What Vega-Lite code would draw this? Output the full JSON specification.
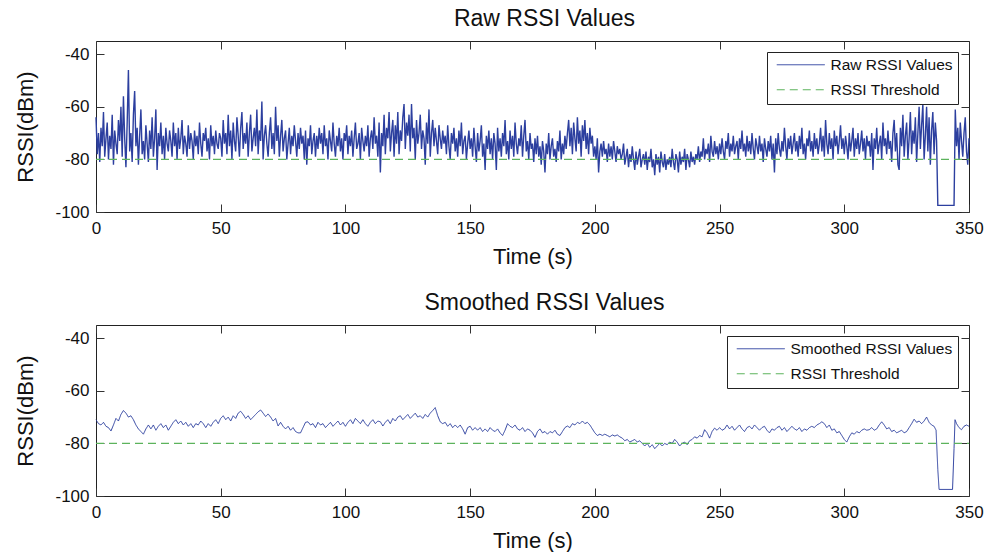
{
"$schema":"https://vega.github.io/schema/vega-lite/v6.json",
"background":"white",
"padding":{"left":14,"top":7,"right":5,"bottom":5},
"bounds":"flush",
"spacing":113,
"config":{
"font":"Liberation Sans",
"view":{"stroke":"#222","strokeWidth":1},
"axis":{"grid":false,"domain":false,"ticks":true,"tickSize":-8,"tickColor":"#333","tickWidth":1,"labelFontSize":17,"labelColor":"#111","labelFlush":false,"labelOverlap":false,"titleFontSize":22,"titleFontWeight":"normal","titleColor":"#111","labelFont":"Liberation Sans","titleFont":"Liberation Sans"},
"axisX":{"labelPadding":16,"titlePadding":10},
"axisY":{"labelPadding":15,"titlePadding":17},
"title":{"fontSize":23,"fontWeight":"normal","font":"Liberation Sans","color":"#111","offset":10,"anchor":"middle","dx":12},
"legend":{"orient":"top-right","offset":11,"strokeColor":"#222","fillColor":"white","padding":5,"labelFontSize":15.5,"labelFont":"Liberation Sans","labelColor":"#111","symbolType":"M-4,0H4","symbolSize":144,"symbolOffset":21,"labelOffset":22,"symbolStrokeWidth":1,"rowPadding":8,"labelLimit":400}
},
"resolve":{"scale":{"color":"independent","strokeDash":"independent"}},
"datasets":{
"thr":[{"t":0,"v":-80},{"t":350,"v":-80}],
"box":[{"t":0,"v":-100}],
"raw":[
{"t":0,"v":-64},{"t":0.5,"v":-78},{"t":1,"v":-70},{"t":1.5,"v":-81},{"t":2,"v":-68},{"t":2.5,"v":-75},{"t":3,"v":-62},{"t":3.5,"v":-79},{"t":4,"v":-72},{"t":4.5,"v":-66},{"t":5,"v":-80},{"t":5.5,"v":-71},{"t":6,"v":-76},{"t":6.5,"v":-63},{"t":7,"v":-82},{"t":7.5,"v":-69},{"t":8,"v":-74},{"t":8.5,"v":-78},{"t":9,"v":-65},{"t":9.5,"v":-73},
{"t":10,"v":-60},{"t":10.5,"v":-79},{"t":11,"v":-56},{"t":11.5,"v":-72},{"t":12,"v":-83},{"t":12.5,"v":-66},{"t":13,"v":-46},{"t":13.5,"v":-77},{"t":14,"v":-70},{"t":14.5,"v":-81},{"t":15,"v":-63},{"t":15.5,"v":-54},{"t":16,"v":-75},{"t":16.5,"v":-68},{"t":17,"v":-82},{"t":17.5,"v":-71},{"t":18,"v":-61},{"t":18.5,"v":-78},{"t":19,"v":-73},{"t":19.5,"v":-80},
{"t":20,"v":-67},{"t":20.5,"v":-74},{"t":21,"v":-81},{"t":21.5,"v":-69},{"t":22,"v":-76},{"t":22.5,"v":-64},{"t":23,"v":-79},{"t":23.5,"v":-72},{"t":24,"v":-61},{"t":24.5,"v":-84},{"t":25,"v":-70},{"t":25.5,"v":-75},{"t":26,"v":-66},{"t":26.5,"v":-78},{"t":27,"v":-71},{"t":27.5,"v":-80},{"t":28,"v":-68},{"t":28.5,"v":-74},{"t":29,"v":-77},{"t":29.5,"v":-69},
{"t":30,"v":-73},{"t":30.5,"v":-79},{"t":31,"v":-66},{"t":31.5,"v":-75},{"t":32,"v":-70},{"t":32.5,"v":-80},{"t":33,"v":-68},{"t":33.5,"v":-76},{"t":34,"v":-72},{"t":34.5,"v":-65},{"t":35,"v":-78},{"t":35.5,"v":-71},{"t":36,"v":-74},{"t":36.5,"v":-79},{"t":37,"v":-67},{"t":37.5,"v":-76},{"t":38,"v":-70},{"t":38.5,"v":-73},{"t":39,"v":-80},{"t":39.5,"v":-69},
{"t":40,"v":-75},{"t":40.5,"v":-71},{"t":41,"v":-78},{"t":41.5,"v":-66},{"t":42,"v":-74},{"t":42.5,"v":-79},{"t":43,"v":-70},{"t":43.5,"v":-73},{"t":44,"v":-68},{"t":44.5,"v":-77},{"t":45,"v":-72},{"t":45.5,"v":-80},{"t":46,"v":-67},{"t":46.5,"v":-75},{"t":47,"v":-71},{"t":47.5,"v":-78},{"t":48,"v":-69},{"t":48.5,"v":-74},{"t":49,"v":-76},{"t":49.5,"v":-70},
{"t":50,"v":-72},{"t":50.5,"v":-79},{"t":51,"v":-65},{"t":51.5,"v":-74},{"t":52,"v":-70},{"t":52.5,"v":-78},{"t":53,"v":-63},{"t":53.5,"v":-75},{"t":54,"v":-69},{"t":54.5,"v":-80},{"t":55,"v":-66},{"t":55.5,"v":-73},{"t":56,"v":-77},{"t":56.5,"v":-64},{"t":57,"v":-71},{"t":57.5,"v":-79},{"t":58,"v":-68},{"t":58.5,"v":-62},{"t":59,"v":-76},{"t":59.5,"v":-70},
{"t":60,"v":-74},{"t":60.5,"v":-66},{"t":61,"v":-79},{"t":61.5,"v":-70},{"t":62,"v":-63},{"t":62.5,"v":-77},{"t":63,"v":-72},{"t":63.5,"v":-68},{"t":64,"v":-75},{"t":64.5,"v":-61},{"t":65,"v":-78},{"t":65.5,"v":-69},{"t":66,"v":-73},{"t":66.5,"v":-58},{"t":67,"v":-80},{"t":67.5,"v":-71},{"t":68,"v":-67},{"t":68.5,"v":-74},{"t":69,"v":-79},{"t":69.5,"v":-70},
{"t":70,"v":-64},{"t":70.5,"v":-76},{"t":71,"v":-70},{"t":71.5,"v":-78},{"t":72,"v":-60},{"t":72.5,"v":-73},{"t":73,"v":-67},{"t":73.5,"v":-79},{"t":74,"v":-71},{"t":74.5,"v":-65},{"t":75,"v":-77},{"t":75.5,"v":-72},{"t":76,"v":-69},{"t":76.5,"v":-80},{"t":77,"v":-74},{"t":77.5,"v":-68},{"t":78,"v":-78},{"t":78.5,"v":-71},{"t":79,"v":-75},{"t":79.5,"v":-67},
{"t":80,"v":-73},{"t":80.5,"v":-79},{"t":81,"v":-70},{"t":81.5,"v":-76},{"t":82,"v":-68},{"t":82.5,"v":-74},{"t":83,"v":-71},{"t":83.5,"v":-80},{"t":84,"v":-69},{"t":84.5,"v":-82},{"t":85,"v":-72},{"t":85.5,"v":-75},{"t":86,"v":-67},{"t":86.5,"v":-78},{"t":87,"v":-73},{"t":87.5,"v":-70},{"t":88,"v":-79},{"t":88.5,"v":-71},{"t":89,"v":-76},{"t":89.5,"v":-68},
{"t":90,"v":-74},{"t":90.5,"v":-70},{"t":91,"v":-78},{"t":91.5,"v":-67},{"t":92,"v":-75},{"t":92.5,"v":-72},{"t":93,"v":-80},{"t":93.5,"v":-69},{"t":94,"v":-73},{"t":94.5,"v":-77},{"t":95,"v":-66},{"t":95.5,"v":-74},{"t":96,"v":-79},{"t":96.5,"v":-71},{"t":97,"v":-75},{"t":97.5,"v":-68},{"t":98,"v":-77},{"t":98.5,"v":-72},{"t":99,"v":-80},{"t":99.5,"v":-70},
{"t":100,"v":-73},{"t":100.5,"v":-67},{"t":101,"v":-78},{"t":101.5,"v":-71},{"t":102,"v":-75},{"t":102.5,"v":-69},{"t":103,"v":-79},{"t":103.5,"v":-72},{"t":104,"v":-66},{"t":104.5,"v":-76},{"t":105,"v":-74},{"t":105.5,"v":-70},{"t":106,"v":-80},{"t":106.5,"v":-68},{"t":107,"v":-73},{"t":107.5,"v":-77},{"t":108,"v":-71},{"t":108.5,"v":-75},{"t":109,"v":-67},{"t":109.5,"v":-79},
{"t":110,"v":-72},{"t":110.5,"v":-69},{"t":111,"v":-76},{"t":111.5,"v":-64},{"t":112,"v":-74},{"t":112.5,"v":-71},{"t":113,"v":-79},{"t":113.5,"v":-66},{"t":114,"v":-85},{"t":114.5,"v":-70},{"t":115,"v":-75},{"t":115.5,"v":-63},{"t":116,"v":-78},{"t":116.5,"v":-68},{"t":117,"v":-72},{"t":117.5,"v":-62},{"t":118,"v":-77},{"t":118.5,"v":-70},{"t":119,"v":-65},{"t":119.5,"v":-79},
{"t":120,"v":-67},{"t":120.5,"v":-74},{"t":121,"v":-62},{"t":121.5,"v":-78},{"t":122,"v":-69},{"t":122.5,"v":-73},{"t":123,"v":-64},{"t":123.5,"v":-59},{"t":124,"v":-76},{"t":124.5,"v":-66},{"t":125,"v":-71},{"t":125.5,"v":-63},{"t":126,"v":-77},{"t":126.5,"v":-59},{"t":127,"v":-72},{"t":127.5,"v":-68},{"t":128,"v":-80},{"t":128.5,"v":-65},{"t":129,"v":-74},{"t":129.5,"v":-70},
{"t":130,"v":-63},{"t":130.5,"v":-76},{"t":131,"v":-69},{"t":131.5,"v":-72},{"t":132,"v":-82},{"t":132.5,"v":-66},{"t":133,"v":-74},{"t":133.5,"v":-61},{"t":134,"v":-79},{"t":134.5,"v":-70},{"t":135,"v":-65},{"t":135.5,"v":-75},{"t":136,"v":-68},{"t":136.5,"v":-73},{"t":137,"v":-78},{"t":137.5,"v":-67},{"t":138,"v":-72},{"t":138.5,"v":-76},{"t":139,"v":-69},{"t":139.5,"v":-74},
{"t":140,"v":-71},{"t":140.5,"v":-78},{"t":141,"v":-67},{"t":141.5,"v":-75},{"t":142,"v":-80},{"t":142.5,"v":-70},{"t":143,"v":-74},{"t":143.5,"v":-68},{"t":144,"v":-77},{"t":144.5,"v":-72},{"t":145,"v":-79},{"t":145.5,"v":-69},{"t":146,"v":-75},{"t":146.5,"v":-66},{"t":147,"v":-78},{"t":147.5,"v":-73},{"t":148,"v":-71},{"t":148.5,"v":-80},{"t":149,"v":-74},{"t":149.5,"v":-69},
{"t":150,"v":-76},{"t":150.5,"v":-72},{"t":151,"v":-79},{"t":151.5,"v":-68},{"t":152,"v":-75},{"t":152.5,"v":-81},{"t":153,"v":-70},{"t":153.5,"v":-77},{"t":154,"v":-73},{"t":154.5,"v":-67},{"t":155,"v":-79},{"t":155.5,"v":-74},{"t":156,"v":-84},{"t":156.5,"v":-71},{"t":157,"v":-76},{"t":157.5,"v":-69},{"t":158,"v":-78},{"t":158.5,"v":-72},{"t":159,"v":-80},{"t":159.5,"v":-70},
{"t":160,"v":-74},{"t":160.5,"v":-84},{"t":161,"v":-68},{"t":161.5,"v":-77},{"t":162,"v":-72},{"t":162.5,"v":-79},{"t":163,"v":-70},{"t":163.5,"v":-75},{"t":164,"v":-65},{"t":164.5,"v":-78},{"t":165,"v":-73},{"t":165.5,"v":-80},{"t":166,"v":-69},{"t":166.5,"v":-76},{"t":167,"v":-71},{"t":167.5,"v":-79},{"t":168,"v":-66},{"t":168.5,"v":-74},{"t":169,"v":-78},{"t":169.5,"v":-72},
{"t":170,"v":-75},{"t":170.5,"v":-67},{"t":171,"v":-79},{"t":171.5,"v":-71},{"t":172,"v":-65},{"t":172.5,"v":-77},{"t":173,"v":-73},{"t":173.5,"v":-80},{"t":174,"v":-70},{"t":174.5,"v":-76},{"t":175,"v":-74},{"t":175.5,"v":-81},{"t":176,"v":-72},{"t":176.5,"v":-78},{"t":177,"v":-71},{"t":177.5,"v":-79},{"t":178,"v":-75},{"t":178.5,"v":-82},{"t":179,"v":-73},{"t":179.5,"v":-77},
{"t":180,"v":-85},{"t":180.5,"v":-74},{"t":181,"v":-78},{"t":181.5,"v":-70},{"t":182,"v":-80},{"t":182.5,"v":-75},{"t":183,"v":-72},{"t":183.5,"v":-79},{"t":184,"v":-76},{"t":184.5,"v":-81},{"t":185,"v":-73},{"t":185.5,"v":-77},{"t":186,"v":-69},{"t":186.5,"v":-80},{"t":187,"v":-74},{"t":187.5,"v":-78},{"t":188,"v":-71},{"t":188.5,"v":-76},{"t":189,"v":-70},{"t":189.5,"v":-65},
{"t":190,"v":-75},{"t":190.5,"v":-68},{"t":191,"v":-78},{"t":191.5,"v":-66},{"t":192,"v":-72},{"t":192.5,"v":-77},{"t":193,"v":-64},{"t":193.5,"v":-74},{"t":194,"v":-69},{"t":194.5,"v":-79},{"t":195,"v":-67},{"t":195.5,"v":-73},{"t":196,"v":-65},{"t":196.5,"v":-76},{"t":197,"v":-70},{"t":197.5,"v":-78},{"t":198,"v":-68},{"t":198.5,"v":-74},{"t":199,"v":-71},{"t":199.5,"v":-79},
{"t":200,"v":-75},{"t":200.5,"v":-80},{"t":201,"v":-72},{"t":201.5,"v":-85},{"t":202,"v":-77},{"t":202.5,"v":-74},{"t":203,"v":-79},{"t":203.5,"v":-73},{"t":204,"v":-78},{"t":204.5,"v":-76},{"t":205,"v":-81},{"t":205.5,"v":-74},{"t":206,"v":-79},{"t":206.5,"v":-75},{"t":207,"v":-80},{"t":207.5,"v":-73},{"t":208,"v":-77},{"t":208.5,"v":-81},{"t":209,"v":-75},{"t":209.5,"v":-78},
{"t":210,"v":-76},{"t":210.5,"v":-80},{"t":211,"v":-78},{"t":211.5,"v":-74},{"t":212,"v":-82},{"t":212.5,"v":-79},{"t":213,"v":-76},{"t":213.5,"v":-83},{"t":214,"v":-78},{"t":214.5,"v":-81},{"t":215,"v":-75},{"t":215.5,"v":-80},{"t":216,"v":-84},{"t":216.5,"v":-77},{"t":217,"v":-82},{"t":217.5,"v":-79},{"t":218,"v":-76},{"t":218.5,"v":-83},{"t":219,"v":-80},{"t":219.5,"v":-78},
{"t":220,"v":-82},{"t":220.5,"v":-77},{"t":221,"v":-84},{"t":221.5,"v":-79},{"t":222,"v":-81},{"t":222.5,"v":-76},{"t":223,"v":-83},{"t":223.5,"v":-80},{"t":224,"v":-86},{"t":224.5,"v":-78},{"t":225,"v":-82},{"t":225.5,"v":-79},{"t":226,"v":-85},{"t":226.5,"v":-77},{"t":227,"v":-81},{"t":227.5,"v":-83},{"t":228,"v":-78},{"t":228.5,"v":-84},{"t":229,"v":-80},{"t":229.5,"v":-82},
{"t":230,"v":-79},{"t":230.5,"v":-83},{"t":231,"v":-76},{"t":231.5,"v":-81},{"t":232,"v":-84},{"t":232.5,"v":-78},{"t":233,"v":-80},{"t":233.5,"v":-85},{"t":234,"v":-77},{"t":234.5,"v":-82},{"t":235,"v":-79},{"t":235.5,"v":-81},{"t":236,"v":-76},{"t":236.5,"v":-84},{"t":237,"v":-78},{"t":237.5,"v":-80},{"t":238,"v":-83},{"t":238.5,"v":-77},{"t":239,"v":-81},{"t":239.5,"v":-79},
{"t":240,"v":-82},{"t":240.5,"v":-78},{"t":241,"v":-80},{"t":241.5,"v":-75},{"t":242,"v":-81},{"t":242.5,"v":-77},{"t":243,"v":-79},{"t":243.5,"v":-72},{"t":244,"v":-80},{"t":244.5,"v":-76},{"t":245,"v":-78},{"t":245.5,"v":-74},{"t":246,"v":-81},{"t":246.5,"v":-71},{"t":247,"v":-77},{"t":247.5,"v":-79},{"t":248,"v":-73},{"t":248.5,"v":-78},{"t":249,"v":-75},{"t":249.5,"v":-80},
{"t":250,"v":-74},{"t":250.5,"v":-78},{"t":251,"v":-72},{"t":251.5,"v":-77},{"t":252,"v":-80},{"t":252.5,"v":-73},{"t":253,"v":-76},{"t":253.5,"v":-70},{"t":254,"v":-79},{"t":254.5,"v":-74},{"t":255,"v":-77},{"t":255.5,"v":-71},{"t":256,"v":-78},{"t":256.5,"v":-75},{"t":257,"v":-73},{"t":257.5,"v":-80},{"t":258,"v":-72},{"t":258.5,"v":-76},{"t":259,"v":-69},{"t":259.5,"v":-77},
{"t":260,"v":-74},{"t":260.5,"v":-79},{"t":261,"v":-71},{"t":261.5,"v":-77},{"t":262,"v":-73},{"t":262.5,"v":-78},{"t":263,"v":-70},{"t":263.5,"v":-76},{"t":264,"v":-80},{"t":264.5,"v":-72},{"t":265,"v":-75},{"t":265.5,"v":-78},{"t":266,"v":-71},{"t":266.5,"v":-77},{"t":267,"v":-74},{"t":267.5,"v":-81},{"t":268,"v":-72},{"t":268.5,"v":-76},{"t":269,"v":-79},{"t":269.5,"v":-73},
{"t":270,"v":-77},{"t":270.5,"v":-71},{"t":271,"v":-80},{"t":271.5,"v":-74},{"t":272,"v":-85},{"t":272.5,"v":-72},{"t":273,"v":-78},{"t":273.5,"v":-70},{"t":274,"v":-76},{"t":274.5,"v":-79},{"t":275,"v":-73},{"t":275.5,"v":-77},{"t":276,"v":-68},{"t":276.5,"v":-75},{"t":277,"v":-80},{"t":277.5,"v":-72},{"t":278,"v":-76},{"t":278.5,"v":-71},{"t":279,"v":-78},{"t":279.5,"v":-74},
{"t":280,"v":-70},{"t":280.5,"v":-77},{"t":281,"v":-73},{"t":281.5,"v":-79},{"t":282,"v":-71},{"t":282.5,"v":-76},{"t":283,"v":-68},{"t":283.5,"v":-78},{"t":284,"v":-74},{"t":284.5,"v":-80},{"t":285,"v":-72},{"t":285.5,"v":-75},{"t":286,"v":-69},{"t":286.5,"v":-77},{"t":287,"v":-73},{"t":287.5,"v":-79},{"t":288,"v":-70},{"t":288.5,"v":-76},{"t":289,"v":-72},{"t":289.5,"v":-78},
{"t":290,"v":-74},{"t":290.5,"v":-68},{"t":291,"v":-77},{"t":291.5,"v":-71},{"t":292,"v":-79},{"t":292.5,"v":-65},{"t":293,"v":-74},{"t":293.5,"v":-78},{"t":294,"v":-70},{"t":294.5,"v":-76},{"t":295,"v":-72},{"t":295.5,"v":-80},{"t":296,"v":-69},{"t":296.5,"v":-75},{"t":297,"v":-71},{"t":297.5,"v":-78},{"t":298,"v":-73},{"t":298.5,"v":-67},{"t":299,"v":-76},{"t":299.5,"v":-72},
{"t":300,"v":-78},{"t":300.5,"v":-71},{"t":301,"v":-75},{"t":301.5,"v":-80},{"t":302,"v":-70},{"t":302.5,"v":-77},{"t":303,"v":-73},{"t":303.5,"v":-68},{"t":304,"v":-79},{"t":304.5,"v":-72},{"t":305,"v":-76},{"t":305.5,"v":-70},{"t":306,"v":-78},{"t":306.5,"v":-74},{"t":307,"v":-69},{"t":307.5,"v":-77},{"t":308,"v":-72},{"t":308.5,"v":-80},{"t":309,"v":-71},{"t":309.5,"v":-75},
{"t":310,"v":-73},{"t":310.5,"v":-79},{"t":311,"v":-70},{"t":311.5,"v":-84},{"t":312,"v":-72},{"t":312.5,"v":-76},{"t":313,"v":-68},{"t":313.5,"v":-78},{"t":314,"v":-74},{"t":314.5,"v":-71},{"t":315,"v":-80},{"t":315.5,"v":-66},{"t":316,"v":-75},{"t":316.5,"v":-72},{"t":317,"v":-78},{"t":317.5,"v":-69},{"t":318,"v":-76},{"t":318.5,"v":-73},{"t":319,"v":-81},{"t":319.5,"v":-70},
{"t":320,"v":-65},{"t":320.5,"v":-77},{"t":321,"v":-70},{"t":321.5,"v":-82},{"t":322,"v":-84},{"t":322.5,"v":-68},{"t":323,"v":-75},{"t":323.5,"v":-63},{"t":324,"v":-79},{"t":324.5,"v":-71},{"t":325,"v":-66},{"t":325.5,"v":-80},{"t":326,"v":-72},{"t":326.5,"v":-62},{"t":327,"v":-78},{"t":327.5,"v":-69},{"t":328,"v":-74},{"t":328.5,"v":-64},{"t":329,"v":-81},{"t":329.5,"v":-70},
{"t":330,"v":-60},{"t":330.5,"v":-76},{"t":331,"v":-67},{"t":331.5,"v":-59},{"t":332,"v":-80},{"t":332.5,"v":-71},{"t":333,"v":-60},{"t":333.5,"v":-77},{"t":334,"v":-64},{"t":334.5,"v":-82},{"t":335,"v":-69},{"t":335.5,"v":-62},{"t":336,"v":-78},{"t":336.5,"v":-66},{"t":337,"v":-73},
{"t":337.5,"v":-97.5},{"t":344,"v":-97.5},
{"t":344.5,"v":-61},{"t":345,"v":-75},{"t":345.5,"v":-68},{"t":346,"v":-80},{"t":346.5,"v":-66},{"t":347,"v":-73},{"t":347.5,"v":-79},{"t":348,"v":-70},{"t":348.5,"v":-64},{"t":349,"v":-77},{"t":349.5,"v":-82},{"t":350,"v":-72}
],
"smooth":[
{"t":0,"v":-71},{"t":1,"v":-72.5},{"t":2,"v":-73},{"t":3,"v":-72},{"t":4,"v":-73.5},{"t":5,"v":-74},{"t":6,"v":-75.3},{"t":7,"v":-73},{"t":8,"v":-70.5},{"t":9,"v":-71.5},
{"t":10,"v":-69},{"t":11,"v":-67.5},{"t":12,"v":-68.5},{"t":13,"v":-70},{"t":14,"v":-69.5},{"t":15,"v":-71},{"t":16,"v":-73},{"t":17,"v":-74.5},{"t":18,"v":-75.5},{"t":19,"v":-76.5},
{"t":20,"v":-74.5},{"t":21,"v":-73},{"t":22,"v":-74.5},{"t":23,"v":-73},{"t":24,"v":-75},{"t":25,"v":-73.5},{"t":26,"v":-72.5},{"t":27,"v":-74},{"t":28,"v":-73},{"t":29,"v":-75},
{"t":30,"v":-73.5},{"t":31,"v":-72},{"t":32,"v":-71},{"t":33,"v":-72.5},{"t":34,"v":-71.5},{"t":35,"v":-73},{"t":36,"v":-72},{"t":37,"v":-73.5},{"t":38,"v":-72.5},{"t":39,"v":-74},
{"t":40,"v":-72.5},{"t":41,"v":-73},{"t":42,"v":-71.5},{"t":43,"v":-72.5},{"t":44,"v":-74},{"t":45,"v":-72.5},{"t":46,"v":-73.5},{"t":47,"v":-72},{"t":48,"v":-71},{"t":49,"v":-72.5},
{"t":50,"v":-70.5},{"t":51,"v":-69.5},{"t":52,"v":-71},{"t":53,"v":-70},{"t":54,"v":-71.5},{"t":55,"v":-69.5},{"t":56,"v":-70.5},{"t":57,"v":-68.5},{"t":58,"v":-67.8},{"t":59,"v":-69},
{"t":60,"v":-70.5},{"t":61,"v":-69.5},{"t":62,"v":-71},{"t":63,"v":-70},{"t":64,"v":-69},{"t":65,"v":-68},{"t":66,"v":-67.3},{"t":67,"v":-68.5},{"t":68,"v":-69.8},{"t":69,"v":-68.8},
{"t":70,"v":-70},{"t":71,"v":-71.5},{"t":72,"v":-70.5},{"t":73,"v":-73.4},{"t":74,"v":-72},{"t":75,"v":-73.5},{"t":76,"v":-74.5},{"t":77,"v":-73.5},{"t":78,"v":-75},{"t":79,"v":-74},
{"t":80,"v":-75.5},{"t":81,"v":-76},{"t":82,"v":-76},{"t":83,"v":-74},{"t":84,"v":-72},{"t":85,"v":-71.8},{"t":86,"v":-73},{"t":87,"v":-72.5},{"t":88,"v":-74},{"t":89,"v":-72},
{"t":90,"v":-73},{"t":91,"v":-72.5},{"t":92,"v":-74},{"t":93,"v":-73},{"t":94,"v":-72},{"t":95,"v":-73.5},{"t":96,"v":-72.5},{"t":97,"v":-71.5},{"t":98,"v":-73},{"t":99,"v":-72},
{"t":100,"v":-73.5},{"t":101,"v":-72},{"t":102,"v":-71},{"t":103,"v":-72.5},{"t":104,"v":-70.5},{"t":105,"v":-71.5},{"t":106,"v":-72.5},{"t":107,"v":-71},{"t":108,"v":-72.5},{"t":109,"v":-73.5},
{"t":110,"v":-72},{"t":111,"v":-71},{"t":112,"v":-72.5},{"t":113,"v":-71.5},{"t":114,"v":-71.8},{"t":115,"v":-73.4},{"t":116,"v":-72},{"t":117,"v":-71},{"t":118,"v":-72.5},{"t":119,"v":-70.5},
{"t":120,"v":-71.5},{"t":121,"v":-70},{"t":122,"v":-69.5},{"t":123,"v":-71},{"t":124,"v":-70},{"t":125,"v":-69},{"t":126,"v":-70.5},{"t":127,"v":-69.5},{"t":128,"v":-68.5},{"t":129,"v":-70},
{"t":130,"v":-69.5},{"t":131,"v":-70.5},{"t":132,"v":-69},{"t":133,"v":-70},{"t":134,"v":-68.5},{"t":135,"v":-67.5},{"t":136,"v":-66.4},{"t":137,"v":-69.5},{"t":138,"v":-71.8},{"t":139,"v":-72.5},
{"t":140,"v":-72},{"t":141,"v":-73.5},{"t":142,"v":-72.5},{"t":143,"v":-74},{"t":144,"v":-73},{"t":145,"v":-74},{"t":146,"v":-73},{"t":147,"v":-74.5},{"t":148,"v":-76.5},{"t":149,"v":-74},
{"t":150,"v":-73.5},{"t":151,"v":-75},{"t":152,"v":-74},{"t":153,"v":-75},{"t":154,"v":-74},{"t":155,"v":-75.5},{"t":156,"v":-74.5},{"t":157,"v":-75.5},{"t":158,"v":-74},{"t":159,"v":-75},
{"t":160,"v":-75.5},{"t":161,"v":-74.5},{"t":162,"v":-76},{"t":163,"v":-77},{"t":164,"v":-75},{"t":165,"v":-72.5},{"t":166,"v":-73.5},{"t":167,"v":-74},{"t":168,"v":-73},{"t":169,"v":-74.5},
{"t":170,"v":-75},{"t":171,"v":-74},{"t":172,"v":-75.5},{"t":173,"v":-74.5},{"t":174,"v":-75},{"t":175,"v":-76},{"t":176,"v":-77.7},{"t":177,"v":-75.5},{"t":178,"v":-74.5},{"t":179,"v":-76},
{"t":180,"v":-75.5},{"t":181,"v":-76.5},{"t":182,"v":-75.5},{"t":183,"v":-76},{"t":184,"v":-75},{"t":185,"v":-76.5},{"t":186,"v":-77},{"t":187,"v":-75.5},{"t":188,"v":-74},{"t":189,"v":-73.4},
{"t":190,"v":-74},{"t":191,"v":-72.5},{"t":192,"v":-73},{"t":193,"v":-72},{"t":194,"v":-72.5},{"t":195,"v":-71.5},{"t":196,"v":-72.5},{"t":197,"v":-72},{"t":198,"v":-73},{"t":199,"v":-74.5},
{"t":200,"v":-76},{"t":201,"v":-77},{"t":202,"v":-76.5},{"t":203,"v":-77},{"t":204,"v":-76.5},{"t":205,"v":-77},{"t":206,"v":-77.5},{"t":207,"v":-76.8},{"t":208,"v":-77.2},{"t":209,"v":-76.8},
{"t":210,"v":-77.5},{"t":211,"v":-78},{"t":212,"v":-79},{"t":213,"v":-78.5},{"t":214,"v":-79.5},{"t":215,"v":-79},{"t":216,"v":-78.5},{"t":217,"v":-79.5},{"t":218,"v":-79},{"t":219,"v":-80},
{"t":220,"v":-81},{"t":221,"v":-80},{"t":222,"v":-81.5},{"t":223,"v":-80.5},{"t":224,"v":-82},{"t":225,"v":-81},{"t":226,"v":-80},{"t":227,"v":-81},{"t":228,"v":-80},{"t":229,"v":-80.5},
{"t":230,"v":-79.5},{"t":231,"v":-80},{"t":232,"v":-78.5},{"t":233,"v":-79.5},{"t":234,"v":-81},{"t":235,"v":-80},{"t":236,"v":-79.5},{"t":237,"v":-80.5},{"t":238,"v":-79},{"t":239,"v":-78.5},
{"t":240,"v":-77.5},{"t":241,"v":-78},{"t":242,"v":-77},{"t":243,"v":-77.5},{"t":244,"v":-74.8},{"t":245,"v":-76},{"t":246,"v":-78},{"t":247,"v":-75.5},{"t":248,"v":-74.2},{"t":249,"v":-75},
{"t":250,"v":-74},{"t":251,"v":-75},{"t":252,"v":-74.5},{"t":253,"v":-73},{"t":254,"v":-74.5},{"t":255,"v":-73.5},{"t":256,"v":-75},{"t":257,"v":-74},{"t":258,"v":-73},{"t":259,"v":-74.5},
{"t":260,"v":-75.5},{"t":261,"v":-74},{"t":262,"v":-73.5},{"t":263,"v":-74.5},{"t":264,"v":-73},{"t":265,"v":-74},{"t":266,"v":-75},{"t":267,"v":-74},{"t":268,"v":-73.5},{"t":269,"v":-75},
{"t":270,"v":-76},{"t":271,"v":-74.5},{"t":272,"v":-75},{"t":273,"v":-74},{"t":274,"v":-73.5},{"t":275,"v":-75},{"t":276,"v":-74},{"t":277,"v":-75.5},{"t":278,"v":-74.5},{"t":279,"v":-73.5},
{"t":280,"v":-74.5},{"t":281,"v":-75},{"t":282,"v":-74},{"t":283,"v":-75.5},{"t":284,"v":-74.5},{"t":285,"v":-75},{"t":286,"v":-74},{"t":287,"v":-73.5},{"t":288,"v":-74},{"t":289,"v":-73},
{"t":290,"v":-72.5},{"t":291,"v":-71.8},{"t":292,"v":-72.5},{"t":293,"v":-74},{"t":294,"v":-73},{"t":295,"v":-75},{"t":296,"v":-74.5},{"t":297,"v":-76},{"t":298,"v":-75.5},{"t":299,"v":-77},
{"t":300,"v":-78.5},{"t":301,"v":-79.5},{"t":302,"v":-77.5},{"t":303,"v":-76},{"t":304,"v":-76.5},{"t":305,"v":-75.5},{"t":306,"v":-76},{"t":307,"v":-75},{"t":308,"v":-74.5},{"t":309,"v":-75},
{"t":310,"v":-74.8},{"t":311,"v":-74},{"t":312,"v":-75},{"t":313,"v":-74.5},{"t":314,"v":-73},{"t":315,"v":-71.8},{"t":316,"v":-73},{"t":317,"v":-74.5},{"t":318,"v":-74},{"t":319,"v":-75.5},
{"t":320,"v":-75},{"t":321,"v":-76},{"t":322,"v":-75.5},{"t":323,"v":-75},{"t":324,"v":-76},{"t":325,"v":-75.5},{"t":326,"v":-74},{"t":327,"v":-72.5},{"t":328,"v":-70.8},{"t":329,"v":-72},
{"t":330,"v":-71.5},{"t":331,"v":-72.5},{"t":332,"v":-71.5},{"t":333,"v":-70},{"t":334,"v":-72},{"t":335,"v":-73},{"t":336,"v":-73.5},{"t":336.8,"v":-75},{"t":337.5,"v":-90},{"t":338,"v":-97.5},{"t":343.4,"v":-97.5},{"t":344,"v":-82},{"t":344.4,"v":-71},{"t":345,"v":-72.5},{"t":346,"v":-74},{"t":347,"v":-74.8},{"t":348,"v":-73.5},{"t":349,"v":-73},{"t":350,"v":-73.5}
]
},
"vconcat":[
{
"width":873,"height":171,
"title":{"text":"Raw RSSI Values"},
"layer":[
{"data":{"name":"raw"},"mark":{"type":"line","strokeWidth":1.4},
"encoding":{
"x":{"field":"t","type":"quantitative","scale":{"domain":[0,350],"nice":false,"zero":false},"axis":{"values":[0,50,100,150,200,250,300,350],"title":"Time (s)","labelExpr":"'' + datum.value"}},
"y":{"field":"v","type":"quantitative","scale":{"domain":[-100,-35],"nice":false,"zero":false},"axis":{"values":[-100,-80,-60,-40],"title":"RSSI(dBm)","labelExpr":"'' + datum.value"}},
"color":{"datum":"Raw RSSI Values","type":"nominal","scale":{"domain":["Raw RSSI Values","RSSI Threshold"],"range":["#2c3f9f","#5cb35c"]},"legend":{"title":null}},
"strokeDash":{"datum":"Raw RSSI Values","type":"nominal","scale":{"domain":["Raw RSSI Values","RSSI Threshold"],"range":[[1,0],[8,5]]},"legend":{"title":null}}
}},
{"data":{"name":"thr"},"mark":{"type":"line","strokeWidth":1.3},
"encoding":{
"x":{"field":"t","type":"quantitative","axis":null},
"y":{"field":"v","type":"quantitative","axis":null},
"color":{"datum":"RSSI Threshold","type":"nominal"},
"strokeDash":{"datum":"RSSI Threshold","type":"nominal"}
}},
{"data":{"name":"box"},"mark":{"type":"point","opacity":0},
"encoding":{
"x":{"field":"t","type":"quantitative","axis":{"orient":"top","values":[0,50,100,150,200,250,300,350],"labels":false,"title":null}},
"y":{"field":"v","type":"quantitative","axis":{"orient":"right","values":[-100,-80,-60,-40],"labels":false,"title":null}}
}}
],
"resolve":{"axis":{"x":"independent","y":"independent"}}
},
{
"width":873,"height":171,
"title":{"text":"Smoothed RSSI Values"},
"layer":[
{"data":{"name":"smooth"},"mark":{"type":"line","strokeWidth":1},
"encoding":{
"x":{"field":"t","type":"quantitative","scale":{"domain":[0,350],"nice":false,"zero":false},"axis":{"values":[0,50,100,150,200,250,300,350],"title":"Time (s)","labelExpr":"'' + datum.value"}},
"y":{"field":"v","type":"quantitative","scale":{"domain":[-100,-35],"nice":false,"zero":false},"axis":{"values":[-100,-80,-60,-40],"title":"RSSI(dBm)","labelExpr":"'' + datum.value"}},
"color":{"datum":"Smoothed RSSI Values","type":"nominal","scale":{"domain":["Smoothed RSSI Values","RSSI Threshold"],"range":["#2c3f9f","#5cb35c"]},"legend":{"title":null}},
"strokeDash":{"datum":"Smoothed RSSI Values","type":"nominal","scale":{"domain":["Smoothed RSSI Values","RSSI Threshold"],"range":[[1,0],[8,5]]},"legend":{"title":null}}
}},
{"data":{"name":"thr"},"mark":{"type":"line","strokeWidth":1.3},
"encoding":{
"x":{"field":"t","type":"quantitative","axis":null},
"y":{"field":"v","type":"quantitative","axis":null},
"color":{"datum":"RSSI Threshold","type":"nominal"},
"strokeDash":{"datum":"RSSI Threshold","type":"nominal"}
}},
{"data":{"name":"box"},"mark":{"type":"point","opacity":0},
"encoding":{
"x":{"field":"t","type":"quantitative","axis":{"orient":"top","values":[0,50,100,150,200,250,300,350],"labels":false,"title":null}},
"y":{"field":"v","type":"quantitative","axis":{"orient":"right","values":[-100,-80,-60,-40],"labels":false,"title":null}}
}}
],
"resolve":{"axis":{"x":"independent","y":"independent"}}
}
]
}
